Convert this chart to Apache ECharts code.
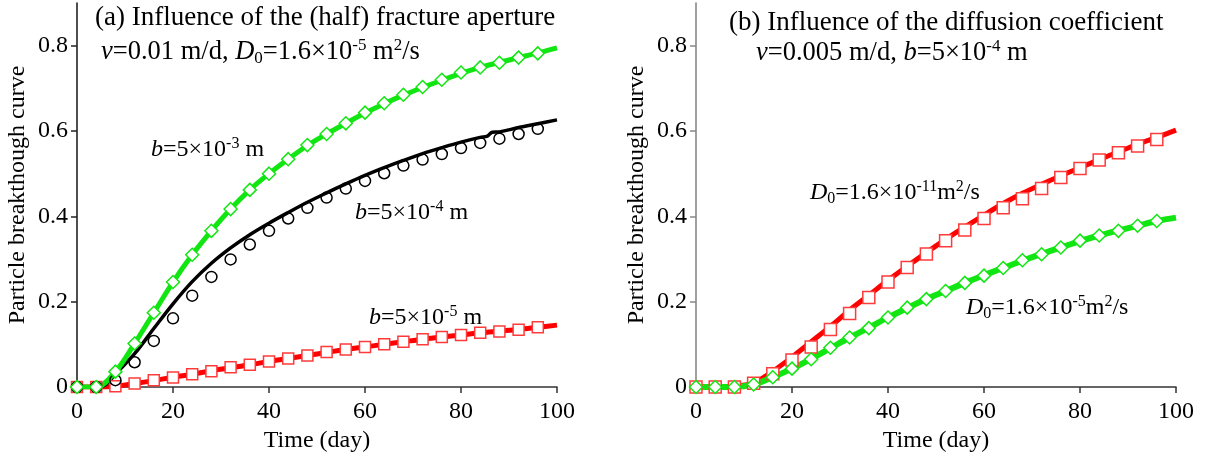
<!DOCTYPE html>
<html>
<head>
<meta charset="utf-8">
<script src="https://cdn.jsdelivr.net/npm/echarts@6/dist/echarts.min.js"></script>
<style>
html,body{margin:0;padding:0;background:#fff;}
#c{width:1205px;height:454px;}
</style>
</head>
<body>
<div id="c"></div>
<script>
// ---- data ----
var days = [0,4,8,12,16,20,24,28,32,36,40,44,48,52,56,60,64,68,72,76,80,84,88,92,96];
var lineDays = [0,4,8,12,16,20,24,28,32,36,40,44,48,52,56,60,64,68,72,76,80,84,88,92,96,100];
var xTicks = [0,20,40,60,80,100];
var yTicks = [0,0.2,0.4,0.6,0.8];

// panel (a)
var aGreenMarks = [0,0,0.036,0.102,0.174,0.246,0.31,0.366,0.417,0.462,0.5,0.534,0.567,0.593,0.618,0.643,0.665,0.685,0.703,0.72,0.737,0.749,0.76,0.772,0.782];
var aGreenLine  = [0,0,0.036,0.102,0.174,0.246,0.31,0.366,0.417,0.462,0.5,0.534,0.566,0.593,0.618,0.642,0.664,0.684,0.702,0.719,0.735,0.749,0.761,0.772,0.783,0.795];
var aBlackMarks = [0,0,0.016,0.058,0.108,0.161,0.214,0.258,0.299,0.334,0.366,0.395,0.42,0.444,0.465,0.483,0.501,0.519,0.533,0.546,0.56,0.572,0.582,0.593,0.605];
var aBlackLineX = [0,4,6,8,12,16,20,24,28,32,36,40,44,48,52,56,60,64,68,72,76,80,84,85.5,86.5,88,92,96,100];
var aBlackLine  = [0,0,0.006,0.03,0.078,0.137,0.195,0.247,0.29,0.326,0.357,0.384,0.409,0.433,0.455,0.476,0.496,0.514,0.531,0.547,0.561,0.574,0.585,0.588,0.597,0.598,0.608,0.617,0.626];
var aRedMarks = [0,0,0.002,0.008,0.016,0.022,0.03,0.037,0.046,0.052,0.06,0.067,0.074,0.082,0.088,0.094,0.1,0.106,0.112,0.117,0.122,0.127,0.13,0.134,0.14];
var aRedLine  = [0,0,0.002,0.008,0.015,0.023,0.03,0.038,0.045,0.052,0.06,0.067,0.074,0.081,0.088,0.094,0.1,0.106,0.112,0.117,0.122,0.127,0.131,0.135,0.14,0.145];

// panel (b)
var bRedMarks = [0,0,0,0.009,0.031,0.063,0.094,0.135,0.172,0.21,0.246,0.28,0.312,0.343,0.368,0.395,0.42,0.441,0.465,0.491,0.512,0.532,0.549,0.565,0.58];
var bRedLine  = [0,0,0.002,0.01,0.037,0.07,0.106,0.142,0.18,0.215,0.25,0.283,0.315,0.346,0.375,0.403,0.43,0.454,0.475,0.495,0.514,0.533,0.551,0.569,0.585,0.602];
var bGreenMarks = [0,0,0,0.006,0.023,0.043,0.065,0.092,0.116,0.138,0.163,0.186,0.206,0.225,0.244,0.261,0.279,0.297,0.311,0.327,0.343,0.355,0.366,0.378,0.389];
var bGreenLine  = [0,0,0,0.006,0.023,0.043,0.066,0.091,0.116,0.139,0.163,0.185,0.206,0.225,0.244,0.262,0.279,0.296,0.312,0.327,0.342,0.355,0.367,0.378,0.389,0.397];

// ---- build ----
function pairs(xs, ys){ return xs.map(function(x,i){ return [x, ys[i]]; }); }
var FONT = 'Liberation Serif';
var GREEN = '#12e612', RED = '#ff0000';

function xAx(idx){
  return {
    gridIndex: idx, type:'value', min:0, max:100, interval:20,
    name:'Time (day)', nameLocation:'middle', nameGap:35,
    nameTextStyle:{fontFamily:FONT,fontSize:24,color:'#000'},
    axisLine:{show:true,onZero:false,lineStyle:{color:'#333',width:1.5}},
    axisTick:{show:true,length:6,lineStyle:{color:'#333',width:1.5}, customValues: xTicks},
    axisLabel:{fontFamily:FONT,fontSize:24,color:'#000',margin:13, customValues: xTicks},
    splitLine:{show:false}
  };
}
function yAx(idx, col){
  return {
    gridIndex: idx, type:'value', min:0, max:0.9,
    name:'Particle breakthough curve', nameLocation:'middle', nameGap:47,
    nameTextStyle:{fontFamily:FONT,fontSize:24,color:'#000'},
    axisLine:{show:true,onZero:false,lineStyle:{color:col,width:1.6}},
    axisTick:{show:true,length:6,lineStyle:{color:col,width:1.5}, customValues: yTicks},
    axisLabel:{fontFamily:FONT,fontSize:24,color:'#000',margin:9, customValues: yTicks},
    splitLine:{show:false}
  };
}
function line(idx, data, color, w, z){
  return {type:'line', xAxisIndex:idx, yAxisIndex:idx, data:data, showSymbol:false, symbol:'none',
    smooth:0.35, lineStyle:{color:color,width:w}, itemStyle:{color:color}, z:z, silent:true, animation:false};
}
function marks(idx, data, sym, size, border, fill, z){
  return {type:'scatter', xAxisIndex:idx, yAxisIndex:idx, data:data, symbol:sym, symbolSize:size,
    itemStyle:{color:fill, borderColor:border, borderWidth:1.5, opacity:1}, z:z, silent:true, animation:false};
}

var rich = {
  t:{fontFamily:FONT,fontSize:27,color:'#000',lineHeight:30},
  n:{fontFamily:FONT,fontSize:26.5,color:'#000',lineHeight:30},
  i:{fontFamily:FONT,fontSize:26.5,color:'#000',fontStyle:'italic',lineHeight:30},
  sup:{fontFamily:FONT,fontSize:17,color:'#000',lineHeight:17,verticalAlign:'top'},
  sub:{fontFamily:FONT,fontSize:17,color:'#000',lineHeight:17,verticalAlign:'bottom'},
  an:{fontFamily:FONT,fontSize:24,color:'#000',lineHeight:28},
  ai:{fontFamily:FONT,fontSize:24,color:'#000',fontStyle:'italic',lineHeight:28},
  asup:{fontFamily:FONT,fontSize:16,color:'#000',lineHeight:16,verticalAlign:'top'},
  asub:{fontFamily:FONT,fontSize:16,color:'#000',lineHeight:16,verticalAlign:'bottom'}
};
function txt(x, y, s){
  return {type:'text', x:x, y:y, silent:true, z:100,
    style:{text:s, rich:rich, fontFamily:FONT, fontSize:26, fill:'#000',
      align:'left', verticalAlign:'middle', textAlign:'left', textVerticalAlign:'middle'}};
}

var chart = echarts.init(document.getElementById('c'), null, {renderer:'canvas'});
chart.setOption({
  animation:false,
  backgroundColor:'#fff',
  grid:[
    {left:77, top:3, width:480, height:384, containLabel:false, outerBoundsMode:'none'},
    {left:696, top:3, width:480, height:384, containLabel:false, outerBoundsMode:'none'}
  ],
  xAxis:[xAx(0), xAx(1)],
  yAxis:[yAx(0,'#222'), yAx(1,'#888')],
  series:[
    line(0, pairs(lineDays, aRedLine), RED, 5, 2),
    line(0, pairs(aBlackLineX, aBlackLine), '#000', 3.5, 3),
    line(0, pairs(lineDays, aGreenLine), GREEN, 5, 4),
    marks(0, pairs(days, aRedMarks), 'rect', 11, '#ff3a3a', '#fff', 5),
    marks(0, pairs(days, aBlackMarks), 'circle', 11, '#000', 'rgba(0,0,0,0)', 6),
    marks(0, pairs(days, aGreenMarks), 'diamond', 13, GREEN, '#fff', 7),

    line(1, pairs(lineDays, bRedLine), RED, 5, 2),
    line(1, pairs(lineDays, bGreenLine), GREEN, 6, 3),
    marks(1, pairs(days, bRedMarks), 'rect', 12, '#ff3a3a', '#fff', 5),
    marks(1, pairs(days, bGreenMarks), 'diamond', 13, GREEN, '#fff', 7)
  ],
  graphic:[
    txt(95, 18, '{t|(a) Influence of the (half) fracture aperture}'),
    txt(101, 52, '{i|v}{n|=0.01 m/d, }{i|D}{sub|0}{n|=1.6×10}{sup|-5}{n| m}{sup|2}{n|/s}'),
    txt(151, 150, '{ai|b}{an|=5×10}{asup|-3}{an| m}'),
    txt(355, 213, '{ai|b}{an|=5×10}{asup|-4}{an| m}'),
    txt(369, 318, '{ai|b}{an|=5×10}{asup|-5}{an| m}'),
    txt(729, 23, '{t|(b) Influence of the diffusion coefficient}'),
    txt(756, 53, '{i|v}{n|=0.005 m/d, }{i|b}{n|=5×10}{sup|-4}{n| m}'),
    txt(810, 193, '{ai|D}{asub|0}{an|=1.6×10}{asup|-11}{an|m}{asup|2}{an|/s}'),
    txt(966, 308, '{ai|D}{asub|0}{an|=1.6×10}{asup|-5}{an|m}{asup|2}{an|/s}')
  ]
});
</script>
</body>
</html>
